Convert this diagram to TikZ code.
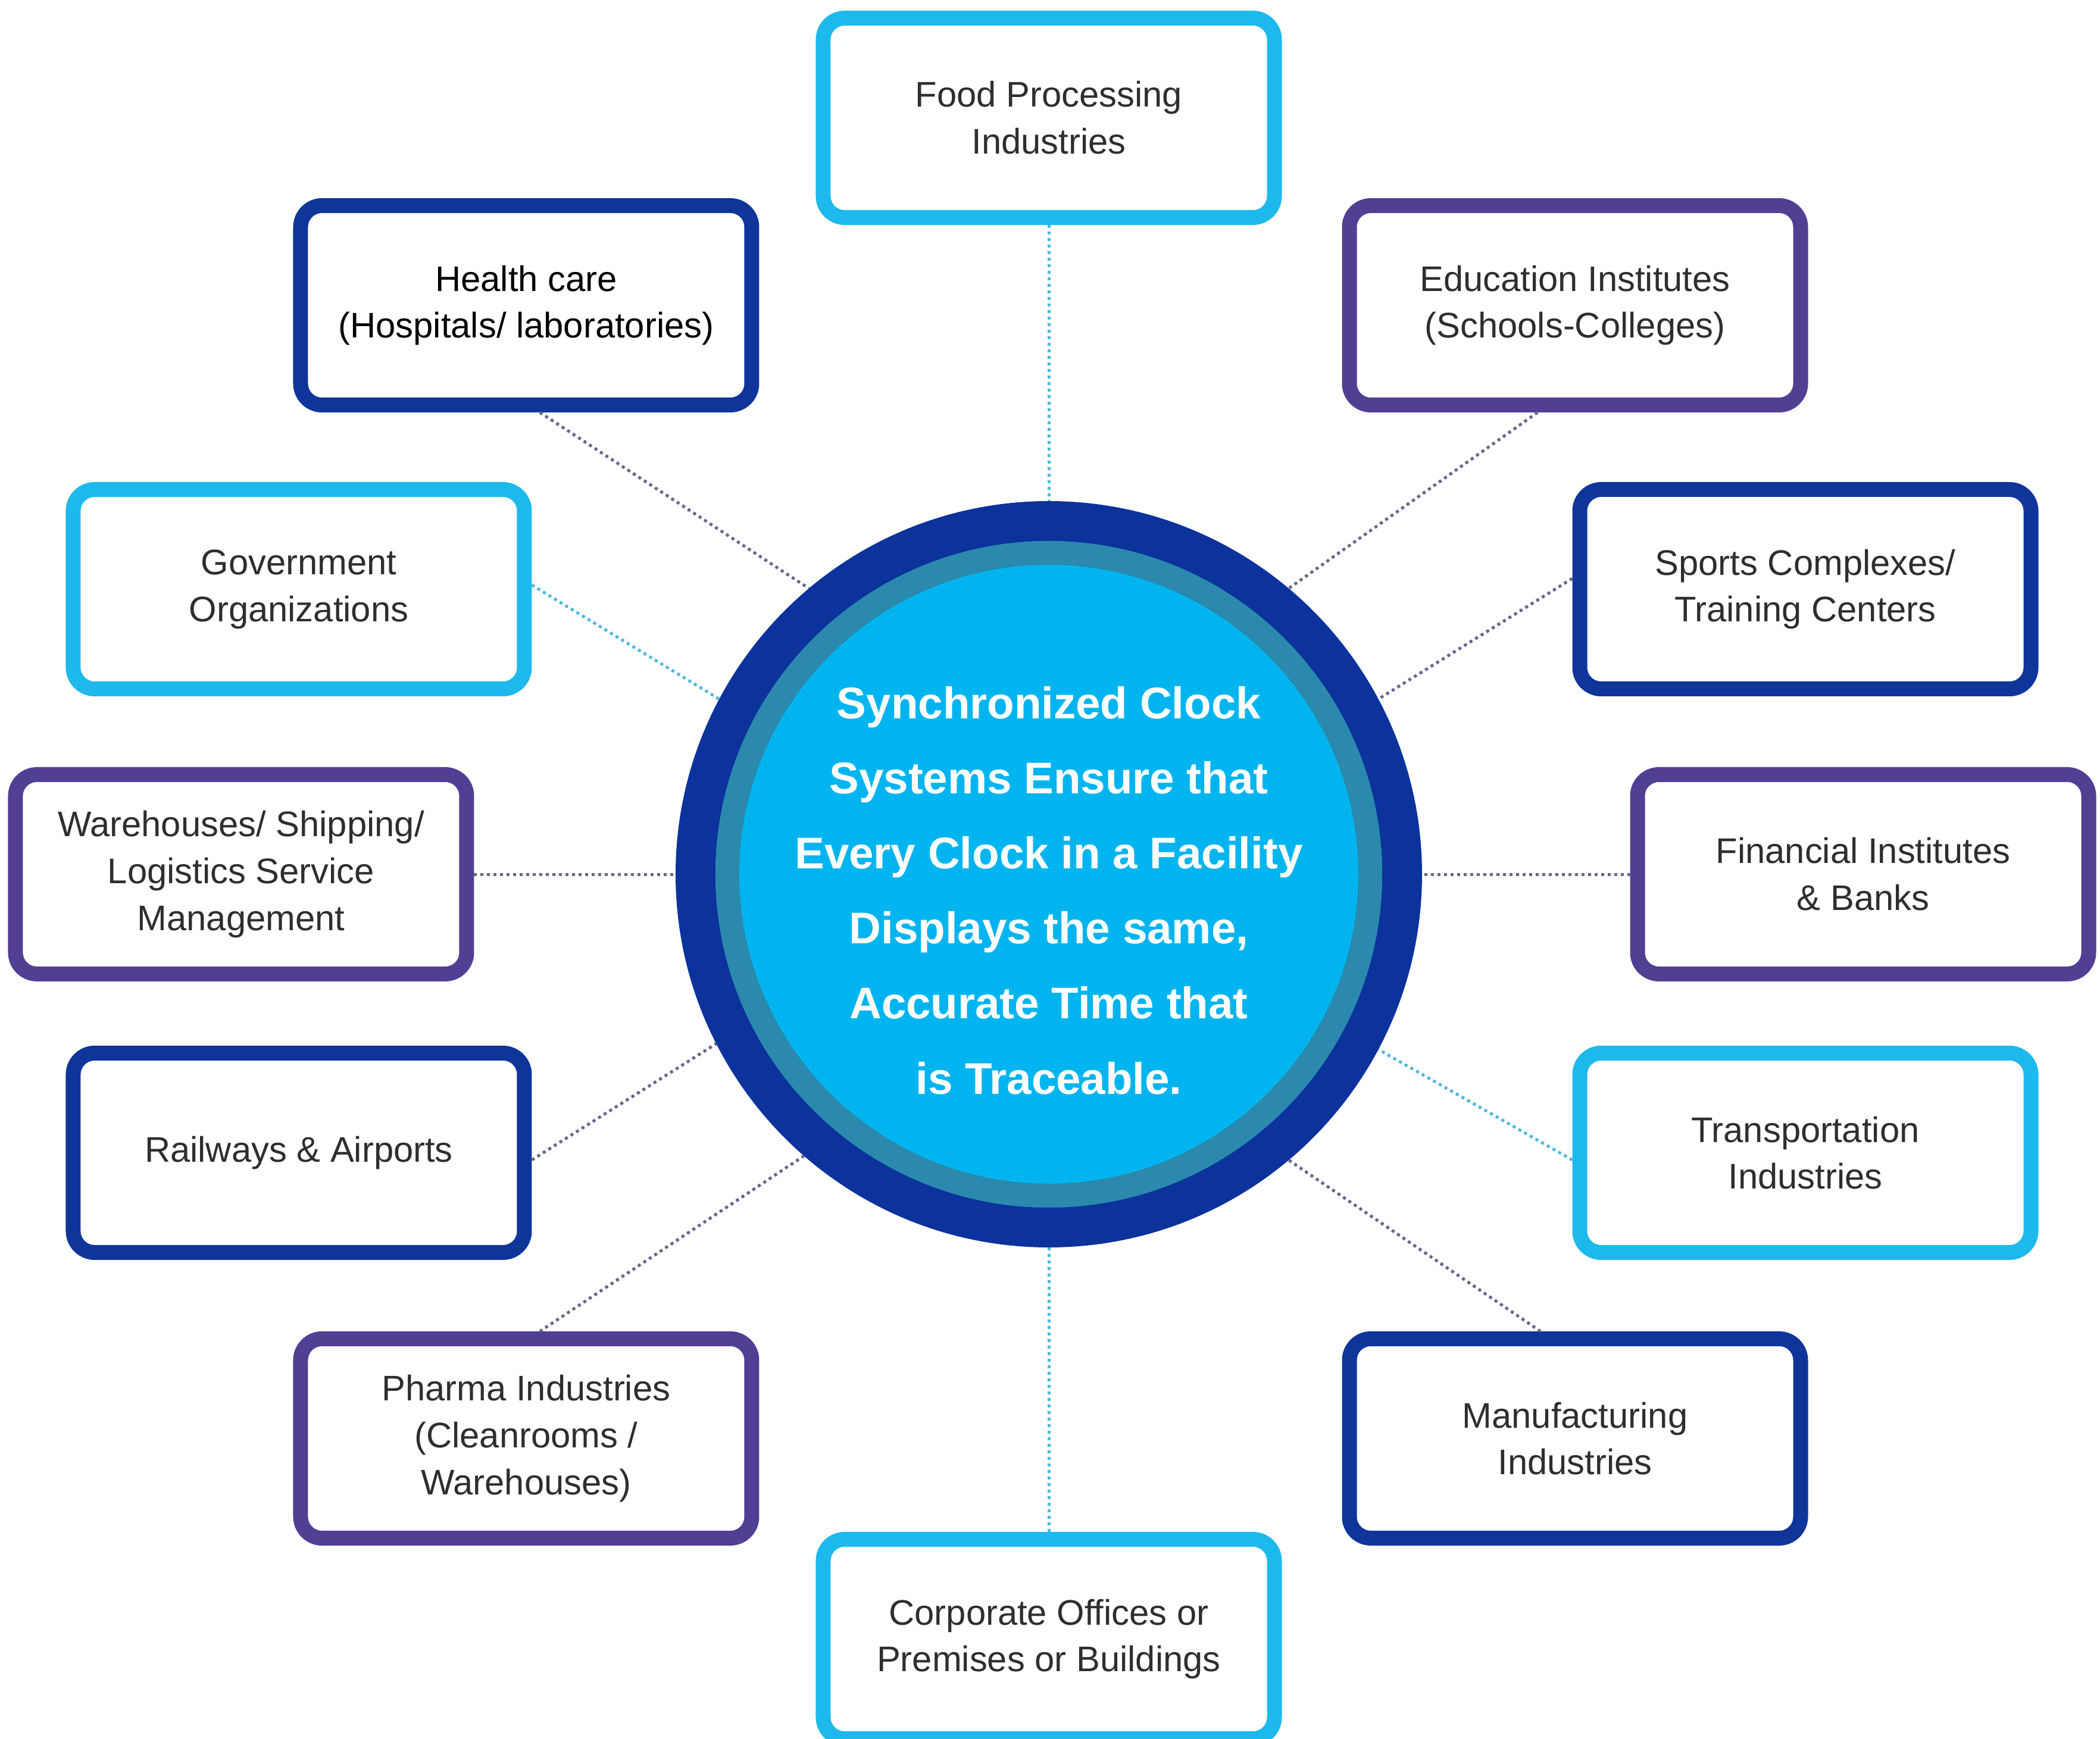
\documentclass[tikz,border=0pt]{standalone}
\usepackage{fontspec}
\setmainfont{Liberation Sans}
\usepackage{tikz}

\definecolor{skyline}{HTML}{1DB9EC}
\definecolor{navyline}{HTML}{0F359B}
\definecolor{purpleline}{HTML}{523E92}
\definecolor{clocknavy}{HTML}{0C329C}
\definecolor{clockteal}{HTML}{2A89AC}
\definecolor{clockfill}{HTML}{00B5EF}
\definecolor{dotgray}{HTML}{62688A}
\definecolor{dotsky}{HTML}{4DB8DE}
\definecolor{boxtext}{HTML}{2E2E2E}

\begin{document}
\begin{tikzpicture}[
    sector/.style={draw, line width=0.25cm, rounded corners=0.36cm, fill=white,
      minimum width=7.58cm, minimum height=3.35cm, inner sep=0pt,
      align=center, text=boxtext, font=\fontsize{17}{22.4}\selectfont},
    skybox/.style={sector, draw=skyline},
    navybox/.style={sector, draw=navyline},
    purplebox/.style={sector, draw=purpleline},
    link/.style={dotgray, line width=0.05cm, dash pattern=on 0.05cm off 0.06cm},
    skylink/.style={link, dotsky}
  ]
    \useasboundingbox (-17.62,-14.52) rectangle (17.66,14.69);

    \node[circle, fill=clockfill, draw=clocknavy, line width=0.67cm,
      minimum size=11.87cm, inner sep=0pt] (clock) at (0,0) {};
    \draw[clockteal, line width=0.40cm] (clock.center) circle (5.40cm);
    \node[text=white, align=center, font=\bfseries\fontsize{21.2}{35.9}\selectfont]
      (claim) at (0,-0.27)
      {Synchronized Clock\\ Systems Ensure that\\ Every Clock in a Facility\\
       Displays the same,\\ Accurate Time that\\ is Traceable.};

    \node[skybox] (food) at (0,12.71) {Food Processing\\ Industries};
    \node[navybox, text=black] (health) at (-8.78,9.56) {Health care\\ (Hospitals/ laboratories)};
    \node[purplebox] (educ) at (8.84,9.56) {Education Institutes\\ (Schools-Colleges)};
    \node[skybox] (govt) at (-12.60,4.79) {Government\\ Organizations};
    \node[navybox] (sports) at (12.71,4.79) {Sports Complexes/\\ Training Centers};
    \node[purplebox] (wareh) at (-13.57,0) {Warehouses/ Shipping/\\ Logistics Service\\ Management};
    \node[purplebox] (finance) at (13.68,0) {Financial Institutes\\ \& Banks};
    \node[navybox] (rail) at (-12.60,-4.68) {Railways \& Airports};
    \node[skybox] (transp) at (12.71,-4.68) {Transportation\\ Industries};
    \node[purplebox] (pharma) at (-8.78,-9.48) {Pharma Industries\\ (Cleanrooms /\\ Warehouses)};
    \node[navybox] (manuf) at (8.84,-9.48) {Manufacturing\\ Industries};
    \node[skybox] (corp) at (0,-12.85) {Corporate Offices or\\ Premises or Buildings};

    \draw[skylink] (food.south) -- (clock.90);
    \draw[link] ([xshift=0.23cm]health.south) -- (clock.130);
    \draw[link] ([xshift=-0.63cm]educ.south) -- (clock.50);
    \draw[skylink] ([yshift=0.07cm]govt.east) -- (clock.152);
    \draw[link] ([yshift=0.18cm]sports.west) -- (clock.28);
    \draw[link] (wareh.east) -- (clock.180);
    \draw[link] (finance.west) -- (clock.0);
    \draw[link] ([yshift=-0.12cm]rail.east) -- (clock.207);
    \draw[skylink] ([yshift=-0.12cm]transp.west) -- (clock.332);
    \draw[link] ([xshift=0.23cm]pharma.north) -- (clock.229);
    \draw[link] ([xshift=-0.58cm]manuf.north) -- (clock.310);
    \draw[skylink] (corp.north) -- (clock.270);
\end{tikzpicture}
\end{document}
